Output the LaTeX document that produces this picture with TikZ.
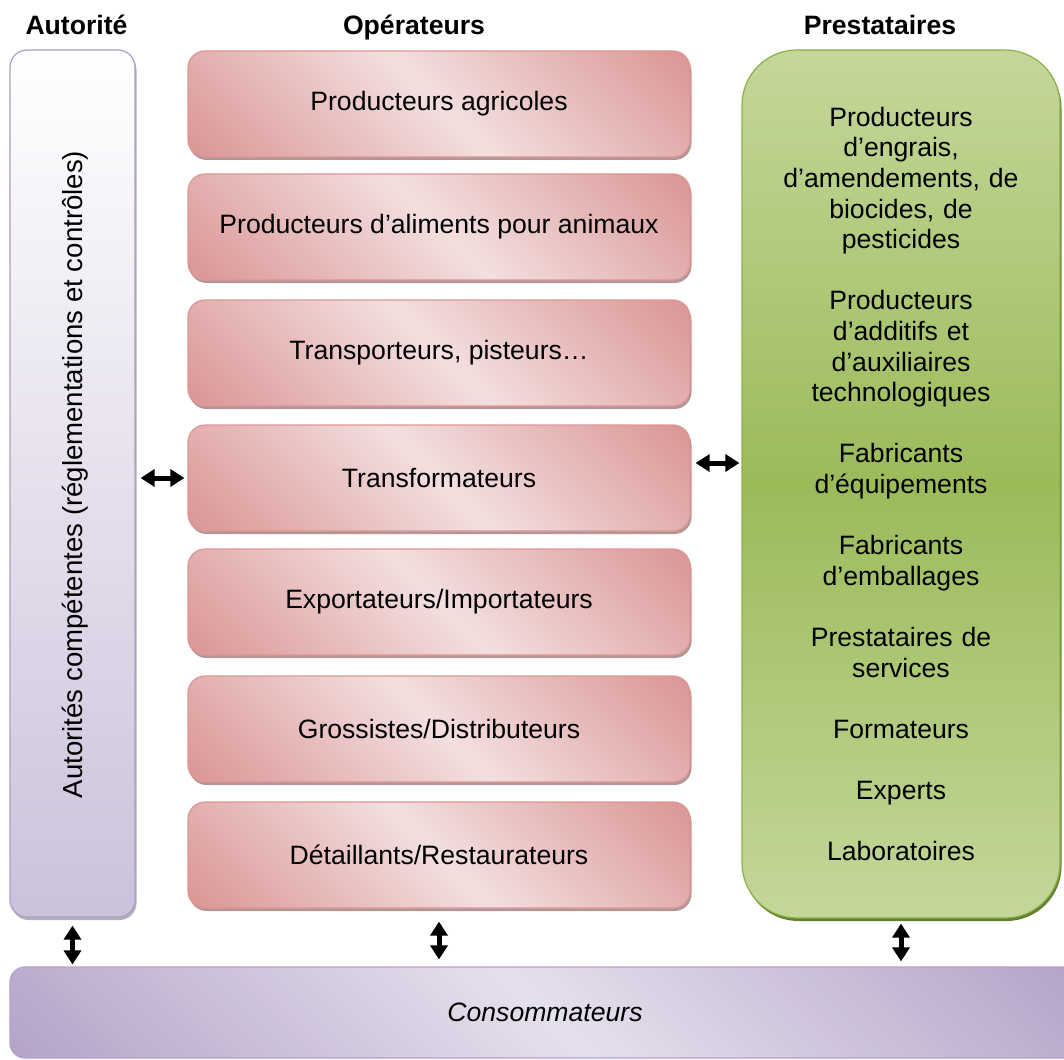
\documentclass[tikz,border=0pt]{standalone}
\usepackage{fontspec}
\setmainfont{Liberation Sans}
\usetikzlibrary{arrows.meta,shadows}

\definecolor{oplight}{RGB}{243,223,223}
\definecolor{opdark}{RGB}{217,148,147}
\definecolor{conslight}{RGB}{229,224,237}
\definecolor{consdark}{RGB}{179,162,199}
\pgfdeclareverticalshading{opshade}{100bp}{color(0bp)=(opdark); color(14bp)=(opdark);
  color(50bp)=(oplight); color(86bp)=(opdark); color(100bp)=(opdark)}
\pgfdeclareverticalshading{consshade}{100bp}{color(0bp)=(consdark); color(14bp)=(consdark);
  color(50bp)=(conslight); color(86bp)=(consdark); color(100bp)=(consdark)}

\begin{document}
\begin{tikzpicture}[x=1pt,y=-1pt]
    	\definecolor{opborder}{RGB}{222,150,148}
    	\definecolor{opshadow}{RGB}{176,150,150}
    	\definecolor{autdark}{RGB}{204,193,219}
    	\definecolor{autborder}{RGB}{172,156,200}
    	\definecolor{prelight}{RGB}{196,215,155}
    	\definecolor{predark}{RGB}{155,187,89}
    	\definecolor{preborder}{RGB}{140,176,72}
    	\definecolor{preshadow}{RGB}{98,128,48}
    	\tikzset{base/.style={font=\fontsize{26.6}{30.6}\selectfont,inner sep=0pt},
    	  heading/.style={base,font=\fontsize{26.6}{30.6}\selectfont\bfseries,anchor=base},
    	  opbox/.style={base,rounded corners=17pt,draw=opborder,line width=1.2pt,
    	    minimum width=502pt,minimum height=106pt,shading=opshade,shading angle=-45,
    	    drop shadow={shadow xshift=1.5pt,shadow yshift=-3pt,fill=opshadow,opacity=1}},
    	  autbox/.style={base,rounded corners=17pt,draw=autborder,line width=1.2pt,
    	    minimum width=125pt,minimum height=867pt,
    	    top color=white,bottom color=autdark,
    	    drop shadow={shadow xshift=1.5pt,shadow yshift=-3pt,fill=gray!60,opacity=1}},
    	  prebox/.style={base,rounded corners=55pt,draw=preborder,line width=1.2pt,
    	    minimum width=318pt,minimum height=868pt,text width=300pt,align=center,
    	    top color=prelight,bottom color=prelight,middle color=predark,
    	    drop shadow={shadow xshift=1.5pt,shadow yshift=-3pt,fill=preshadow,opacity=1}},
    	  consbox/.style={base,rounded corners=15pt,draw=consdark,line width=1.2pt,
    	    minimum width=1070pt,minimum height=91pt,font=\fontsize{26.6}{30.6}\selectfont\itshape,
    	    shading=consshade,shading angle=-45},
    	  dbl/.style={line width=5pt,{Triangle[width=17pt,length=14pt]}-{Triangle[width=17pt,length=14pt]}}}

    	\clip (0,0) rectangle (1064,1059);

    	\node[heading] (hAut) at (76.5,35) {Autorité};
    	\node[heading] (hOp) at (414,35) {Opérateurs};
    	\node[heading] (hPre) at (880,35) {Prestataires};

    	\node[autbox] (aut) at (72.5,483.5) {};
    	\node[base,font=\fontsize{27.6}{30.6}\selectfont,rotate=90] (autlbl) at (75,474.5)
    	  {Autorités compétentes (réglementations et contrôles)};

    	\node[opbox] (op1) at (439,104) {Producteurs agricoles};
    	\node[opbox] (op2) at (439,227) {Producteurs d’aliments pour animaux};
    	\node[opbox] (op3) at (439,353) {Transporteurs, pisteurs…};
    	\node[opbox] (op4) at (439,478) {Transformateurs};
    	\node[opbox] (op5) at (439,602) {Exportateurs/Importateurs};
    	\node[opbox] (op6) at (439,729) {Grossistes/Distributeurs};
    	\node[opbox] (op7) at (439,855) {Détaillants/Restaurateurs};

    	\node[prebox] (pre) at (901,484) {Producteurs\\ d’engrais,\\ d’amendements, de\\
    	  biocides, de\\ pesticides\\[\baselineskip]
    	  Producteurs\\ d’additifs et\\ d’auxiliaires\\ technologiques\\[\baselineskip]
    	  Fabricants\\ d’équipements\\[\baselineskip]
    	  Fabricants\\ d’emballages\\[\baselineskip]
    	  Prestataires de\\ services\\[\baselineskip]
    	  Formateurs\\[\baselineskip]
    	  Experts\\[\baselineskip]
    	  Laboratoires};

    	\node[consbox] (cons) at (545,1012.5) {Consommateurs};

    	\coordinate (opright) at ([yshift=15pt]op4.east);
    	\draw[dbl,shorten <=5pt,shorten >=3pt] (aut.east |- op4) -- (op4.west);
    	\draw[dbl,shorten <=5pt,shorten >=2pt] (opright) -- (opright -| pre.west);
    	\draw[dbl,shorten <=8pt,shorten >=2pt] (aut.south) -- (aut.south |- cons.north);
    	\draw[dbl,shorten <=13pt,shorten >=7pt] (op7.south) -- (op7.south |- cons.north);
    	\draw[dbl,shorten <=5pt,shorten >=5pt] (pre.south) -- (pre.south |- cons.north);
    \end{tikzpicture}
\end{document}
